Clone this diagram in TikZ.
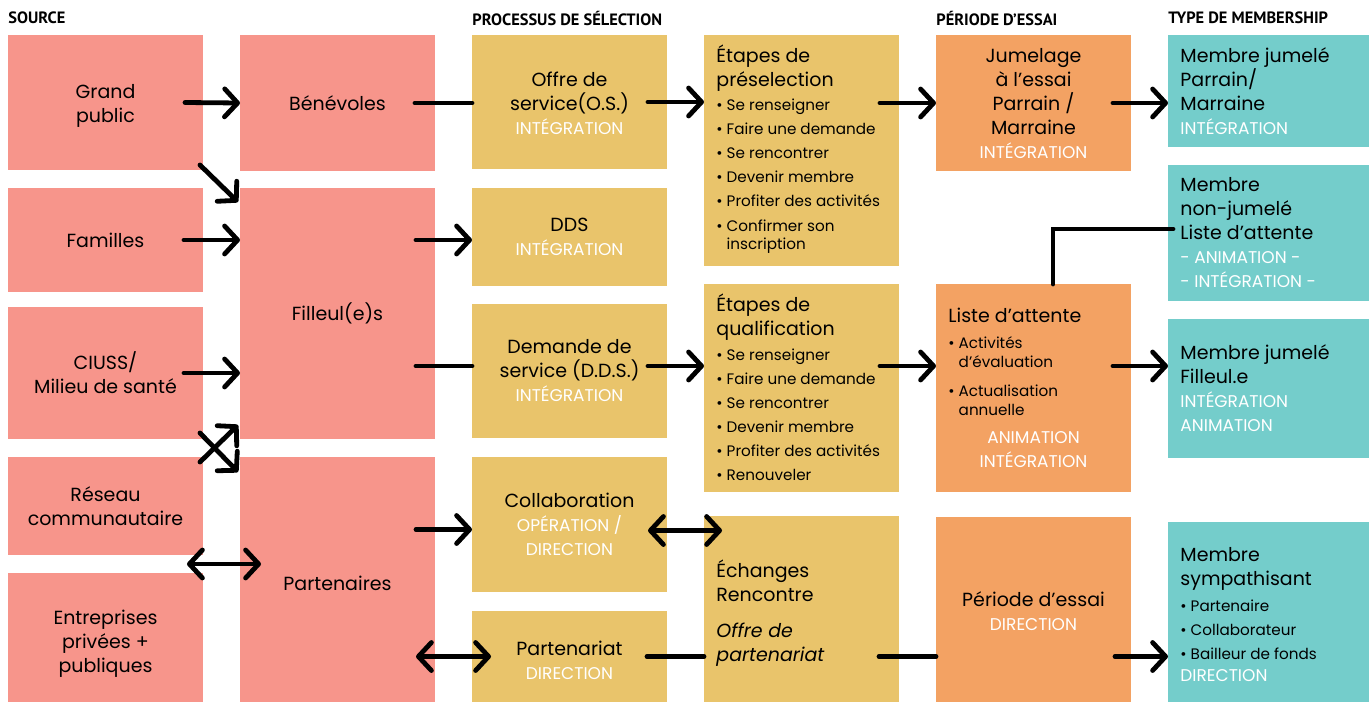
\documentclass[tikz,border=0pt]{standalone}
\usepackage{fontspec}
\setmainfont{Poppins}
\newfontfamily\headfont{PT Sans}
\usetikzlibrary{positioning,arrows.meta}

\definecolor{srcpink}{HTML}{F7958B}
\definecolor{selyel}{HTML}{E9C46B}
\definecolor{essorange}{HTML}{F3A263}
\definecolor{memteal}{HTML}{74CDCB}

% white capitals under the titles
\newcommand\wt[1]{{\fontsize{8.5}{12}\selectfont\color{white}#1}}
% small bullet lines
\newcommand\itm[1]{{\fontsize{7.6}{12}\selectfont\textbullet\ #1}}
\newcommand\itmc[1]{{\fontsize{7.6}{12}\selectfont\phantom{\textbullet\ }#1}}

\tikzset{
	box/.style={inner sep=0pt,outer sep=0pt,anchor=north west},
	lbl/.style={inner sep=0pt,align=center,font=\fontsize{9.5}{12}\selectfont},
	lst/.style={inner sep=0pt,align=left,anchor=north west,font=\fontsize{9.5}{12}\selectfont},
	head/.style={inner sep=0pt,anchor=west,font=\headfont\bfseries\fontsize{8.2}{9}\selectfont},
	ln/.style={line width=2.4pt,line cap=round},
	arr/.style={ln,-{Straight Barb[length=6.5pt,width=14pt,round]}},
	dbl/.style={ln,{Straight Barb[length=6.5pt,width=14pt,round]}-{Straight Barb[length=6.5pt,width=14pt,round]}}
}

\begin{document}
\begin{tikzpicture}[x=0.5pt,y=-0.5pt]

	\useasboundingbox (0,0) rectangle (1369,702);

	% Column headers
	\node[head] (hsrc) at (8,18) {SOURCE};
	\node[head] (hsel) at (472,18) {PROCESSUS DE SÉLECTION};
	\node[head] (hess) at (936,18) {PÉRIODE D’ESSAI};
	\node[head] (hmem) at (1168,18) {TYPE DE MEMBERSHIP};

	% Boxes
	\foreach \n/\x/\y/\w/\h/\c in {
			gp/8/35/195/135/srcpink, fam/8/188/195/104/srcpink,
			ciu/8/307/195/132/srcpink, res/8/457/195/98/srcpink,
			ent/8/573/195/129/srcpink,
			ben/240/35/195/136/srcpink, fil/240/188/195/251/srcpink,
			par/240/457/195/245/srcpink,
			off/472/35/195/134/selyel, dds/472/188/195/98/selyel,
			dem/472/304/195/134/selyel, col/472/457/195/135/selyel,
			ptn/472/611/195/91/selyel,
			pre/704/35/195/231/selyel, qua/704/284/195/208/selyel,
			ech/704/516/195/186/selyel,
			jum/936/35/195/136/essorange, lis/936/284/195/208/essorange,
			per/936/517/195/185/essorange,
			mjp/1168/35/201/112/memteal, mnj/1168/165/201/136/memteal,
			mjf/1168/319/201/139/memteal, sym/1168/522/201/180/memteal} {
		\node[box,fill=\c,minimum width=\w*0.5pt,minimum height=\h*0.5pt] (\n) at (\x,\y) {};
	}

	% Source
	\node[lbl] (tgp) at ([yshift=-1.5pt]gp.center) {Grand\\public};
	\node[lbl] (tfam) at (fam) {Familles};
	\node[lbl] (tciu) at (ciu) {CIUSS/\\Milieu de santé};
	\node[lbl] (tres) at (res) {Réseau\\communautaire};
	\node[lbl] (tent) at ([yshift=-3.25pt]ent.center) {Entreprises\\privées +\\publiques};
	\node[lbl] (tben) at (ben) {Bénévoles};
	\node[lbl] (tfil) at (fil) {Filleul(e)s};
	\node[lbl] (tpar) at ([yshift=-1.75pt]par.center) {Partenaires};

	% Selection
	\node[lbl] (toff) at ([yshift=-0.5pt]off.center) {Offre de\\service(O.S.)\\\wt{INTÉGRATION}};
	\node[lbl] (tdds) at (dds) {DDS\\\wt{INTÉGRATION}};
	\node[lbl] (tdem) at (dem) {Demande de\\service (D.D.S.)\\\wt{INTÉGRATION}};
	\node[lbl] (tcol) at (col) {Collaboration\\\wt{OPÉRATION /}\\\wt{DIRECTION}};
	\node[lbl] (tptn) at ([yshift=-2pt]ptn.center) {Partenariat\\\wt{DIRECTION}};

	\node[lst] (tpre) at (716,44) {Étapes de\\préselection\\[0pt]
		\itm{Se renseigner}\\\itm{Faire une demande}\\\itm{Se rencontrer}\\
		\itm{Devenir membre}\\\itm{Profiter des activités}\\[0.5pt]
		\itm{Confirmer son}\\[-3pt]\itmc{inscription}};
	\node[lst] (tqua) at (716,293) {Étapes de\\qualification\\[0.5pt]
		\itm{Se renseigner}\\\itm{Faire une demande}\\\itm{Se rencontrer}\\
		\itm{Devenir membre}\\\itm{Profiter des activités}\\\itm{Renouveler}};
	\node[lst] (tech) at (716,559) {Échanges\\Rencontre\\[6pt]
		\itshape Offre de\\\itshape partenariat};

	% Trial period
	\node[lbl] (tjum) at ([yshift=-0.5pt]jum.center) {Jumelage\\à l’essai\\Parrain /\\Marraine\\\wt{INTÉGRATION}};
	\node[lst] (tlis) at (948,308) {Liste d’attente\\[1pt]
		\itm{Activités}\\[-2.5pt]\itmc{d’évaluation}\\[2.5pt]
		\itm{Actualisation}\\[-2.5pt]\itmc{annuelle}};
	\node[lbl] (tlis2) at ([yshift=21pt]lis.south) {\wt{ANIMATION}\\\wt{INTÉGRATION}};
	\node[lbl] (tper) at ([yshift=-1pt]per.center) {Période d’essai\\\wt{DIRECTION}};

	% Membership
	\node[lst] (tmjp) at (1180,47) {Membre jumelé\\Parrain/\\Marraine\\\wt{INTÉGRATION}};
	\node[lst] (tmnj) at (1180,177) {Membre\\non-jumelé\\Liste d’attente\\\wt{- ANIMATION -}\\\wt{- INTÉGRATION -}};
	\node[lst] (tmjf) at (1180,344) {Membre jumelé\\Filleul.e\\\wt{INTÉGRATION}\\\wt{ANIMATION}};
	\node[lst] (tsym) at (1180,547) {Membre\\sympathisant\\[1pt]
		\itm{Partenaire}\\\itm{Collaborateur}\\\itm{Bailleur de fonds}\\[-1pt]\wt{DIRECTION}};

	% Connectors
	\coordinate (row) at (0,366);
	\coordinate (rgap) at (187,564);

	\draw[arr] ([xshift=-9pt]gp.east) -- (ben.west);
	\draw[ln] ([xshift=-10pt]ben.east) -- (ben.east -| off.west);
	\draw[arr] ([xshift=-9.5pt]off.east) -- (off.east -| pre.west);
	\draw[arr] ([xshift=-9.5pt]pre.east |- jum.west) -- (jum.west);
	\draw[arr] ([xshift=-9pt]jum.east) -- (jum.east -| mjp.west);

	\draw[arr] ([shift={(-3,-5)}]gp.south east) -- ([shift={(-2,14)}]fil.north west);
	\draw[arr] ([xshift=-9.5pt]fam.east) -- (fam.east -| fil.west);
	\draw[arr] ([xshift=-9.5pt]fil.east |- fam.east) -- (fam.east -| dds.west);
	\draw[ln] ([xshift=-9.5pt]fil.east |- row) -- (row -| dem.west);
	\draw[arr] ([xshift=-9.5pt]ciu.east) -- (ciu.east -| fil.west);

	\draw[arr] ([shift={(-3,-6)}]ciu.south east) -- ([shift={(-2,15)}]par.north west);
	\draw[arr] ([shift={(-3,5)}]res.north east) -- ([shift={(-2,-14)}]fil.south west);
	\draw[dbl] (rgap) -- ([xshift=10.5pt]rgap -| par.west);

	\draw[arr] ([xshift=-9.5pt,yshift=-2.5pt]par.east |- col.west) -- ([yshift=-2.5pt]col.west);
	\draw[dbl] ([xshift=-9.5pt]par.east |- ptn.west) -- ([xshift=9.5pt]ptn.west);
	\draw[dbl] ([xshift=-9.5pt,yshift=-3pt]col.east) -- ([xshift=9pt,yshift=-3pt]col.east -| ech.west);
	\draw[ln] ([xshift=-10pt]ptn.east) -- (ptn.east -| ech.west);
	\draw[ln] ([xshift=-10pt]ech.east |- ptn.east) -- (ptn.east -| per.west);
	\draw[arr] ([xshift=-8pt]per.east |- ptn.east) -- (ptn.east -| sym.west);

	\draw[arr] ([xshift=-9.5pt]dem.east |- row) -- (row -| qua.west);
	\draw[arr] ([xshift=-9.5pt]qua.east |- row) -- (row -| lis.west);
	\draw[arr] ([xshift=-9pt]lis.east |- row) -- (row -| mjf.west);
	\draw[ln] ([xshift=58.5pt]lis.north west) |- ([shift={(5,-4)}]mnj.west);

\end{tikzpicture}
\end{document}
